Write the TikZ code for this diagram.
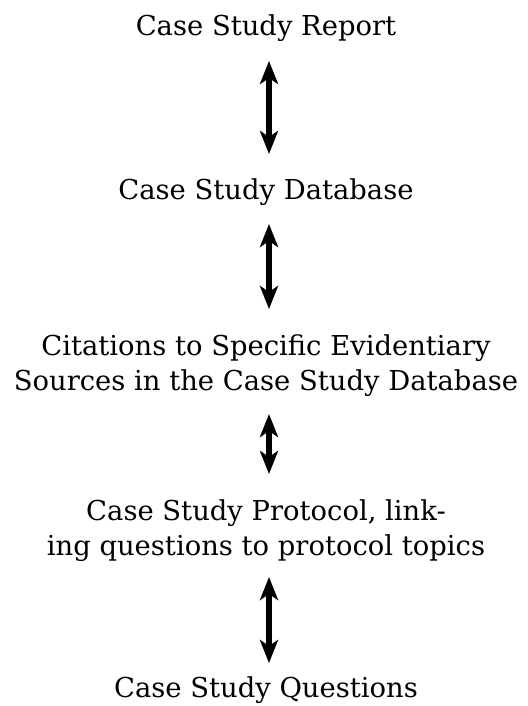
\documentclass[tikz,border=0pt]{standalone}
\usepackage{fontspec}
\setmainfont{DejaVu Serif}
\usetikzlibrary{arrows.meta}
\begin{document}
\begin{tikzpicture}[x=0.5pt,y=-0.5pt,
  label/.style={font=\fontsize{13.7}{17.5}\selectfont, align=center, inner sep=0pt},
  link/.style={line width=2.6pt, {Stealth[length=11.5pt,width=9pt,inset=3pt]}-{Stealth[length=11.5pt,width=9pt,inset=3pt]}}]
\useasboundingbox (0,0) rectangle (528,706);
\node[label] (report) at (266,28) {Case Study Report};
\node[label] (db) at (266,192) {Case Study Database};
\node[label] (cite) at (266,366) {Citations to Specific Evidentiary\\Sources in the Case Study Database};
\node[label] (proto) at (266,531) {Case Study Protocol, link-\\ing questions to protocol topics};
\node[label] (quest) at (266,690) {Case Study Questions};
\coordinate (a1t) at (269,61);  \coordinate (a1b) at (269,154);
\coordinate (a2t) at (269,224); \coordinate (a2b) at (269,309);
\coordinate (a3t) at (269,414); \coordinate (a3b) at (269,474);
\coordinate (a4t) at (269,577); \coordinate (a4b) at (269,663);
\draw[link] (a1t) -- (a1b);
\draw[link] (a2t) -- (a2b);
\draw[link] (a3t) -- (a3b);
\draw[link] (a4t) -- (a4b);
\end{tikzpicture}
\end{document}
